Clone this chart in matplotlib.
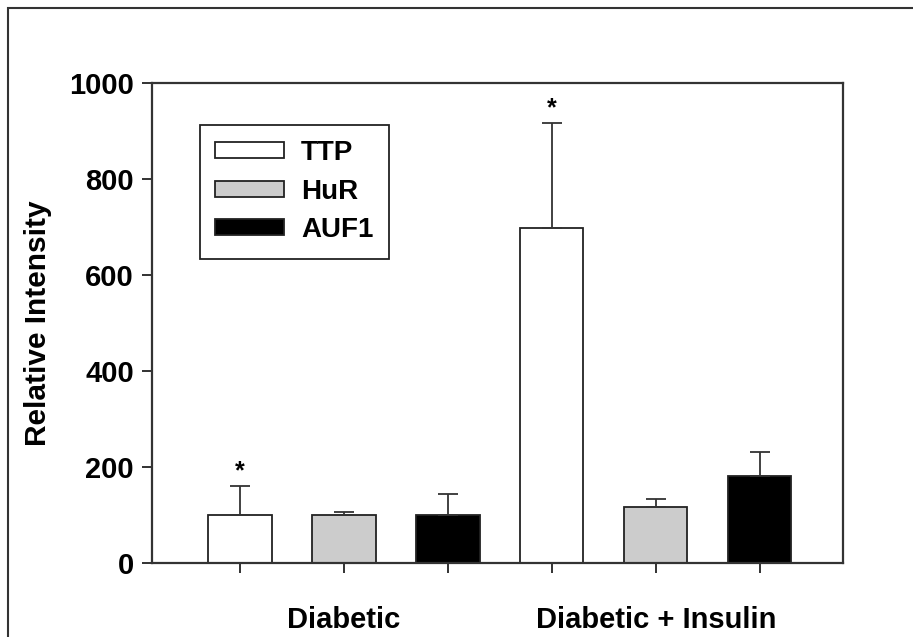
import numpy as np
import matplotlib
matplotlib.use("Agg")
import matplotlib.pyplot as plt
from matplotlib.patches import Rectangle, Patch

plt.rcParams['font.family'] = ['Liberation Sans', 'DejaVu Sans']
plt.rcParams['font.weight'] = 'bold'

# datos
grupos = ['Diabetic', 'Diabetic + Insulin']
proteinas = ['TTP', 'HuR', 'AUF1']
colores = ['white', '#cccccc', 'black']
medias = {'TTP': [100, 698], 'HuR': [100, 117], 'AUF1': [100, 181]}
errores = {'TTP': [60, 219], 'HuR': [7, 17], 'AUF1': [44, 50]}
significativo = {'TTP': [True, True], 'HuR': [False, False], 'AUF1': [False, False]}

fig = plt.figure(figsize=(9.13, 6.37), dpi=100)
ax = fig.add_axes([0.1665, 0.1162, 0.9233 - 0.1665, 0.8697 - 0.1162])

ancho = 0.606
lw = 1.3
for g in range(len(grupos)):
    for i, p in enumerate(proteinas):
        x = g * len(proteinas) + i
        m = medias[p][g]
        e = errores[p][g]
        ax.bar(x, m, width=ancho, color=colores[i], edgecolor='#222222', linewidth=lw, zorder=2)
        ax.errorbar(x, m, yerr=[[0], [e]], fmt='none', ecolor='#333333',
                    elinewidth=lw, capsize=7, capthick=lw, zorder=3)
        if significativo[p][g]:
            ax.text(x, m + e + 6, '*', ha='center', va='bottom', fontsize=18, fontweight='bold')

ax.set_xlim(-0.846, 5.798)
ax.set_ylim(0, 1000)
ax.set_yticks([0, 200, 400, 600, 800, 1000])
ax.set_xticks(np.arange(6))
ax.set_xticklabels([])
ax.tick_params(axis='both', direction='out', length=7, width=1.3, colors='#222222')
ax.tick_params(axis='y', labelsize=21, labelcolor='black', pad=6)
for s in ax.spines.values():
    s.set_linewidth(1.6)
    s.set_color('#333333')

for g, nombre in enumerate(grupos):
    ax.text(g * 3 + 1, -0.118, nombre, transform=ax.get_xaxis_transform(),
            ha='center', va='center', fontsize=21, fontweight='bold')

ax.set_ylabel('Relative Intensity', fontsize=21.5, fontweight='bold', labelpad=12)

handles = [Patch(facecolor=c, edgecolor='#222222', linewidth=lw) for c in colores]
leg = ax.legend(handles, proteinas, loc='upper left', bbox_to_anchor=(0.069, 0.9125),
                fontsize=20, frameon=True, fancybox=False, framealpha=1,
                handlelength=2.5, handleheight=0.5, labelspacing=0.45,
                handletextpad=0.6, borderpad=0.55, borderaxespad=0)
leg.get_frame().set_edgecolor('#222222')
leg.get_frame().set_linewidth(1.3)
for t in leg.get_texts():
    t.set_fontweight('bold')

# marco exterior de la figura
fig.patches.append(Rectangle((8 / 913, -0.05), 1.1, 1 - 8 / 637 + 0.05,
                             transform=fig.transFigure, fill=False,
                             edgecolor='#333333', linewidth=1.5))

fig.savefig('out.png', dpi=100)
